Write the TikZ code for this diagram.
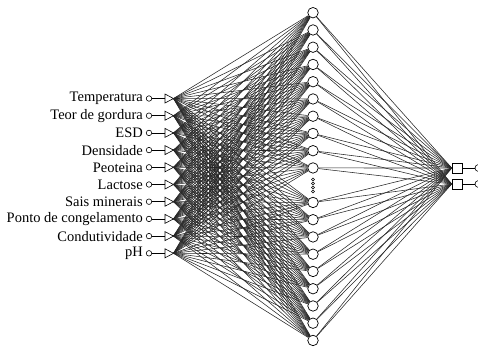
\documentclass[tikz,border=0pt]{standalone}
\usepackage{fontspec}
\setmainfont{Liberation Serif}
\begin{document}
\begin{tikzpicture}[x=1pt,y=-1pt,
  hid/.style={circle,draw,fill=white,minimum size=10.5pt,inner sep=0pt,line width=0.7pt},
  inc/.style={circle,draw,fill=white,minimum size=5.5pt,inner sep=0pt,line width=0.6pt},
  outc/.style={circle,draw,fill=white,minimum size=7pt,inner sep=0pt,line width=0.6pt},
  lab/.style={anchor=east,inner sep=0pt,font=\fontsize{14.5}{16}\selectfont},
  outbox/.style={draw,minimum width=10pt,minimum height=10pt,inner sep=0pt,line width=0.6pt},
  fan/.style={line width=0.55pt,black!85},
  wire/.style={line width=0.6pt},
  dotc/.style={circle,draw,minimum size=3pt,inner sep=0pt,line width=0.4pt}]
\useasboundingbox (0,0) rectangle (478,346);
% inputs
\foreach \t [count=\i from 0] in {Temperatura,Teor de gordura,ESD,Densidade,Peoteina,Lactose,Sais minerais,Ponto de congelamento,Condutividade,pH}{
  \pgfmathsetmacro{\yy}{98.5+17.2*\i}
  \node[lab] (l\i) at (143,\yy) {\t};
  \node[inc] (c\i) at (149,\yy) {};
  \coordinate (b\i) at (165,\yy);
  \coordinate (bt\i) at (165,\yy-4.5);
  \coordinate (bb\i) at (165,\yy+4.5);
  \coordinate (t\i) at (173.5,\yy);
  \draw[wire] (c\i) -- (b\i);
  \draw[wire] (bt\i) -- (bb\i) -- (t\i) -- cycle;
}
% hidden nodes
\foreach \k in {0,...,9,11,12,...,19}{
  \pgfmathsetmacro{\yy}{12.7+17.25*\k}
  \node[hid] (h\k) at (313,\yy) {};
}
\foreach \j/\yy in {1/179.5,2/183.5,3/187.5,4/191.5}
  \node[dotc] (d\j) at (313,\yy) {};
% outputs
\node[outbox] (o1) at (457,168) {};
\node[outbox] (o2) at (457,184) {};
\node[outc] (r1) at (478.5,168) {};
\node[outc] (r2) at (478.5,184) {};
\draw[wire] (o1) -- (r1);
\draw[wire] (o2) -- (r2);
% connections
\foreach \i in {0,...,9}
  \foreach \k in {0,...,9,11,12,...,19}
    \draw[fan] (t\i) -- (h\k);
\foreach \k in {0,...,9,11,12,...,19}{
  \draw[fan] (h\k) -- (o1.west);
  \draw[fan] (h\k) -- (o2.west);
}
\end{tikzpicture}
\end{document}
